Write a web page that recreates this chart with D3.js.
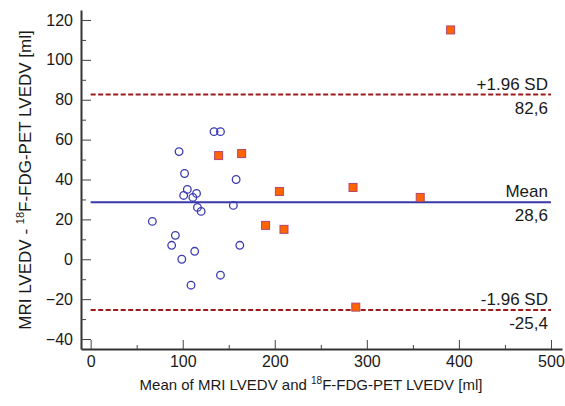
<!DOCTYPE html>
<html>
<head>
<meta charset="utf-8">
<script src="https://cdn.jsdelivr.net/npm/d3@7"></script>
<style>
  body { margin: 0; background: #fff; }
  text { font-family: "Liberation Sans", Arial, sans-serif; fill: #1a1a1a; }
</style>
</head>
<body>
<div id="chart"></div>
<script>
// MRI vs PET LVEDV, Bland-Altman points
var circleMean = [134, 141, 96, 102, 105, 101, 115, 111, 116, 120, 158, 155, 67, 92, 88, 113, 162, 99, 141, 109];
var circleDiff = [64, 64, 54, 43, 35, 32, 33, 31, 26, 24, 40, 27, 19, 12, 7, 4, 7, 0, -8, -13];

var squareMean = [139, 164, 190, 205, 210, 285, 358, 391, 288];
var squareDiff = [52, 53, 17, 34, 15, 36, 31, 115, -24];

var meanDiff = 28.6;
var upperLoA = 82.6;
var lowerLoA = -25.4;

var xTicks = [0, 100, 200, 300, 400, 500];
var xMinorTicks = [50, 150, 250, 350, 450];
var yTicks = [-40, -20, 0, 20, 40, 60, 80, 100, 120];
var yMinorTicks = [-30, -10, 10, 30, 50, 70, 90, 110];

var svgWidth = 565;
var svgHeight = 406;

var svg = d3.select("#chart")
    .append("svg")
    .attr("width", svgWidth)
    .attr("height", svgHeight);

// scales
var xScale = d3.scaleLinear()
    .domain([-10.5, 512])
    .range([81, 562]);

var yScale = d3.scaleLinear()
    .domain([-45, 125])
    .range([349, 10]);

// y axis (ticks point inward)
var yAxis = d3.axisLeft(yScale)
    .tickValues(yTicks)
    .tickSizeInner(-10)
    .tickSizeOuter(0)
    .tickPadding(8);

svg.append("g")
    .attr("transform", "translate(81,0)")
    .call(yAxis);

svg.append("g")
    .attr("transform", "translate(81,0)")
    .call(d3.axisLeft(yScale).tickValues(yMinorTicks).tickSizeInner(-5).tickSizeOuter(0).tickFormat(""))
    .select(".domain").remove();

// x axis
var xAxis = d3.axisBottom(xScale)
    .tickValues(xTicks)
    .tickSizeInner(-9)
    .tickSizeOuter(0)
    .tickPadding(7);

svg.append("g")
    .attr("transform", "translate(0,349)")
    .call(xAxis);

svg.append("g")
    .attr("transform", "translate(0,349)")
    .call(d3.axisBottom(xScale).tickValues(xMinorTicks).tickSizeInner(-4).tickSizeOuter(0).tickFormat(""))
    .select(".domain").remove();

svg.selectAll(".domain").attr("stroke", "#333").attr("stroke-width", 2);
svg.selectAll(".tick line").attr("stroke", "#444").attr("stroke-width", 1);
svg.selectAll(".tick text")
    .attr("font-size", 16)
    .attr("font-family", "Liberation Sans, Arial, sans-serif")
    .attr("fill", "#1a1a1a");

// reference lines
var lines = [
    {v: upperLoA, top: "+1.96 SD", bottom: "82,6", color: "#9e1a1a", dash: "5,2.5"},
    {v: meanDiff, top: "Mean", bottom: "28,6", color: "#3838a8", dash: null},
    {v: lowerLoA, top: "-1.96 SD", bottom: "-25,4", color: "#9e1a1a", dash: "5,2.5"}
];

lines.forEach(function(l) {
    var ln = svg.append("line")
        .attr("x1", xScale(0))
        .attr("x2", xScale(500))
        .attr("y1", yScale(l.v))
        .attr("y2", yScale(l.v))
        .attr("stroke", l.color)
        .attr("stroke-width", 2);
    if (l.dash) ln.attr("stroke-dasharray", l.dash);

    svg.append("text")
        .attr("x", xScale(500) - 3)
        .attr("y", yScale(l.v) - 5)
        .attr("text-anchor", "end")
        .attr("font-size", 17)
        .text(l.top);

    svg.append("text")
        .attr("x", xScale(500) - 3)
        .attr("y", yScale(l.v) + 19)
        .attr("text-anchor", "end")
        .attr("font-size", 17)
        .text(l.bottom);
});

// circles
svg.selectAll("circle.pt")
    .data(circleMean)
    .enter()
    .append("circle")
    .attr("class", "pt")
    .attr("cx", d => xScale(d))
    .attr("cy", (d, i) => yScale(circleDiff[i]))
    .attr("r", 3.8)
    .attr("fill", "none")
    .attr("stroke", "#3a3ab4")
    .attr("stroke-width", 1.3);

// squares
var sq = 8;
svg.selectAll("rect.pt")
    .data(squareMean)
    .enter()
    .append("rect")
    .attr("class", "pt")
    .attr("x", d => xScale(d) - sq / 2)
    .attr("y", (d, i) => yScale(squareDiff[i]) - sq / 2)
    .attr("width", sq)
    .attr("height", sq)
    .attr("fill", "#ff6400")
    .attr("stroke", "#b2476f")
    .attr("stroke-width", 1);

// axis titles
var xTitle = svg.append("text")
    .attr("x", 311)
    .attr("y", 390)
    .attr("text-anchor", "middle")
    .attr("font-size", 15);
xTitle.append("tspan").text("Mean of MRI LVEDV and ");
xTitle.append("tspan").attr("dy", -6).attr("font-size", 10).text("18");
xTitle.append("tspan").attr("dy", 6).text("F-FDG-PET LVEDV [ml]");

var yTitle = svg.append("text")
    .attr("transform", "translate(31,180) rotate(-90)")
    .attr("text-anchor", "middle")
    .attr("font-size", 17);
yTitle.append("tspan").text("MRI LVEDV - ");
yTitle.append("tspan").attr("dy", -7).attr("font-size", 11).text("18");
yTitle.append("tspan").attr("dy", 7).text("F-FDG-PET LVEDV [ml]");
</script>
</body>
</html>
